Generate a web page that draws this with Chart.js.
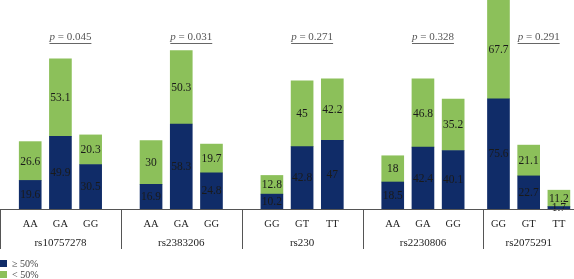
<!DOCTYPE html>
<html>
<head>
<meta charset="utf-8">
<script src="https://cdn.jsdelivr.net/npm/chart.js@4.4.1/dist/chart.umd.min.js"></script>
<style>
  html, body { margin: 0; padding: 0; background: #fff; }
  #wrap { width: 574px; height: 279px; position: relative; }
</style>
</head>
<body>
<div id="wrap"><canvas id="chart" width="574" height="279"></canvas></div>
<script>
const snps = ['rs10757278', 'rs2383206', 'rs230', 'rs2230806', 'rs2075291'];
const genotypes = [
    ['AA', 'GA', 'GG'],
    ['AA', 'GA', 'GG'],
    ['GG', 'GT', 'TT'],
    ['AA', 'GA', 'GG'],
    ['GG', 'GT', 'TT']
];
const above50 = [
    [19.6, 49.9, 30.5],
    [16.9, 58.3, 24.8],
    [10.2, 42.8, 47],
    [18.5, 42.4, 40.1],
    [75.6, 22.7, 1.7]
];
const below50 = [
    [26.6, 53.1, 20.3],
    [30, 50.3, 19.7],
    [12.8, 45, 42.2],
    [18, 46.8, 35.2],
    [67.7, 21.1, 11.2]
];
const pValues = ['0.045', '0.031', '0.271', '0.328', '0.291'];

const NAVY = '#102c68';
const GREEN = '#8cc05a';
const SERIF = '"Liberation Serif", "DejaVu Serif", serif';

// slot index for each bar: 3 bars + 1 gap per group, last group sits half a slot tighter
const slotOf = (g, i) => g * 4 + i - (g === 4 ? 0.5 : 0);
const sepSlots = [-1, 3, 7, 11, 15];

const toPoints = arr => arr.flatMap((grp, g) => grp.map((v, i) => ({ x: slotOf(g, i), y: v })));

const labelsPlugin = {
    id: 'labels',
    afterDatasetsDraw(chart) {
        const ctx = chart.ctx;
        const x = chart.scales.x;
        const area = chart.chartArea;
        ctx.save();
        // values in segments
        ctx.font = '11.5px ' + SERIF;
        ctx.fillStyle = '#1a1a1a';
        ctx.textAlign = 'center';
        ctx.textBaseline = 'middle';
        chart.data.datasets.forEach((ds, di) => {
            chart.getDatasetMeta(di).data.forEach((bar, j) => {
                const mid = (bar.y + bar.base) / 2;
                ctx.fillText(String(ds.data[j].y), bar.x, mid + 0.5);
            });
        });

        // axis line and separators
        ctx.strokeStyle = '#555';
        ctx.lineWidth = 1;
        ctx.beginPath();
        ctx.moveTo(0, area.bottom + 0.5);
        ctx.lineTo(chart.width, area.bottom + 0.5);
        sepSlots.forEach(s => {
            const px = Math.max(0.5, Math.round(x.getPixelForValue(s)) + 0.5);
            ctx.moveTo(px, area.bottom);
            ctx.lineTo(px, area.bottom + 40);
        });
        ctx.stroke();

        // category labels
        ctx.fillStyle = '#222';
        snps.forEach((name, g) => {
            ctx.font = '10.5px ' + SERIF;
            genotypes[g].forEach((gt, i) => {
                ctx.fillText(gt, x.getPixelForValue(slotOf(g, i)), area.bottom + 15);
            });
            const cx = x.getPixelForValue(slotOf(g, 1));
            ctx.font = '11px ' + SERIF;
            ctx.fillText(name, cx, area.bottom + 34);

            // p value, underlined
            const txt = ' = ' + pValues[g];
            ctx.font = 'italic 11px ' + SERIF;
            const wp = ctx.measureText('p').width;
            ctx.font = '11px ' + SERIF;
            const wt = ctx.measureText(txt).width;
            const left = cx + 10 - (wp + wt) / 2;
            const py = 37;
            ctx.fillStyle = '#555';
            ctx.textAlign = 'left';
            ctx.font = 'italic 11px ' + SERIF;
            ctx.fillText('p', left, py);
            ctx.font = '11px ' + SERIF;
            ctx.fillText(txt, left + wp, py);
            ctx.strokeStyle = '#666';
            ctx.beginPath();
            ctx.moveTo(left, py + 6.5);
            ctx.lineTo(left + wp + wt, py + 6.5);
            ctx.stroke();
            ctx.textAlign = 'center';
            ctx.fillStyle = '#222';
        });

        // legend
        ctx.textAlign = 'left';
        ctx.font = '10px ' + SERIF;
        ctx.fillStyle = NAVY;
        ctx.fillRect(0, 260, 7, 7);
        ctx.fillStyle = GREEN;
        ctx.fillRect(0, 271, 7, 7);
        ctx.fillStyle = '#444';
        ctx.fillText('\u2265 50%', 12, 264);
        ctx.fillText('< 50%', 12, 275);
        ctx.restore();
    }
};

new Chart(document.getElementById('chart'), {
    type: 'bar',
    data: {
        datasets: [
            { label: '\u2265 50%', data: toPoints(above50), backgroundColor: NAVY, barThickness: 22 },
            { label: '< 50%', data: toPoints(below50), backgroundColor: GREEN, barThickness: 22 }
        ]
    },
    options: {
        responsive: false,
        animation: false,
        devicePixelRatio: 1,
        layout: { padding: { left: 0, right: 0, top: 0, bottom: 70 } },
        scales: {
            x: { type: 'linear', min: -1, max: 18, offset: false, stacked: true, display: false },
            y: { min: 0, max: 143.3, stacked: true, display: false }
        },
        plugins: { legend: { display: false }, tooltip: { enabled: false } }
    },
    plugins: [labelsPlugin]
});
</script>
</body>
</html>
